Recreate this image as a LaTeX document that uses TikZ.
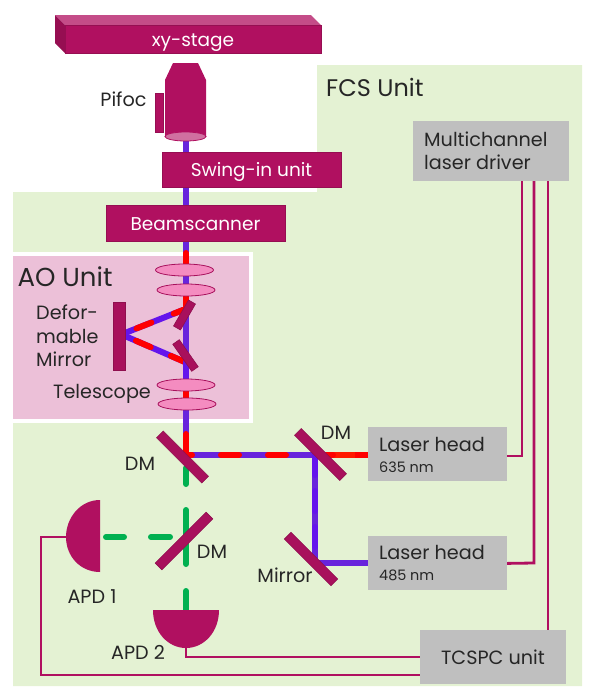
\documentclass[tikz,border=0pt]{standalone}
\usepackage{fontspec}
\setmainfont{Poppins}
\usetikzlibrary{positioning, arrows.meta, shapes.geometric, backgrounds}
\definecolor{stagepurple}{HTML}{B01060}
\definecolor{mirrorpurple}{HTML}{A8105C}
\definecolor{fcsgreen}{HTML}{E4F2D3}
\definecolor{aopink}{HTML}{ECC0D8}
\definecolor{lenspink}{HTML}{F48CC0}
\definecolor{headgray}{HTML}{BFBFBF}
\definecolor{beamblue}{HTML}{6414EC}
\definecolor{beamgreen}{HTML}{00B050}
\definecolor{labeltext}{HTML}{262626}
\pgfdeclarelayer{back}
\pgfsetlayers{back,background,main}

\begin{document}
\begin{tikzpicture}[
    x=1pt, y=-1pt,
    unitbox/.style={draw=stagepurple!85!black, line width=0.6pt, fill=stagepurple, rectangle, inner sep=0pt, align=center, text=white, text height=14pt, text depth=0pt, font=\fontsize{18.5}{20}\selectfont},
    headbox/.style={fill=headgray, rectangle, inner sep=0pt, text=labeltext, font=\fontsize{19.2}{20}\selectfont},
    mirror/.style={draw=mirrorpurple!85!black, line width=0.6pt, fill=mirrorpurple, rectangle, inner sep=0pt, minimum height=9.5pt},
    lens/.style={draw=mirrorpurple, line width=0.8pt, fill=lenspink, ellipse, inner sep=0pt, minimum width=58pt, minimum height=12pt},
    tag/.style={text=labeltext, inner sep=0pt, align=left, font=\fontsize{19.2}{23.5}\selectfont},
    smalltag/.style={tag, font=\fontsize{14.4}{16}\selectfont},
    unittag/.style={text=labeltext, inner sep=0pt, font=\fontsize{26}{28}\selectfont},
    beam/.style={line width=6pt, line cap=round},
    cable/.style={draw=stagepurple, line width=2.8pt}
]
    \useasboundingbox (0,0) rectangle (590,694);

    % Panels
    \begin{pgfonlayer}{back}
        \fill[fcsgreen] (317,65) -- (582,65) -- (582,686) -- (13,686) -- (13,192) -- (317,192) -- cycle;
        \fill[white] (13,252) rectangle (253,423);
        \fill[aopink] (13,256) rectangle (249,419);
    \end{pgfonlayer}
    \node[unittag, font=\fontsize{24}{28}\selectfont, anchor=west] (fcsunit) at (326,87) {FCS Unit};

    % Stage
    \fill[stagepurple!75!white] (55,15) -- (311,15) -- (321,25) -- (65,25) -- cycle;
    \fill[stagepurple!85!black] (55,15) -- (65,25) -- (65,53) -- (55,43) -- cycle;
    \node[unitbox, minimum width=256pt, minimum height=28pt] (stage) at (193,39) {xy-stage};

    % Objective
    \fill[stagepurple] (173,63) -- (198,63) -- (206,80) -- (206,137) -- (165,137) -- (165,80) -- cycle;
    \node[lens, fill=stagepurple!60!white, draw=stagepurple, minimum width=41pt, minimum height=9pt] (objective) at (185.5,136.5) {};
    \node[unitbox, minimum width=8pt, minimum height=39pt] (pifocbar) at (159,112.5) {};
    \node[tag] (pifoc) [left=8pt of pifocbar.north west, anchor=east, yshift=-7pt] {Pifoc};

    % Scan path
    \node[unitbox, minimum width=179pt, minimum height=35pt] (swing) at (251.5,169.5) {Swing-in unit};
    \node[unitbox, minimum width=179pt, minimum height=36pt] (scanner) at (195.5,223) {Beamscanner};

    % AO Unit
    \node[unittag] (aounit) at (65,277) {AO Unit};
    \node[lens] (lensa) at (184.5,270) {};
    \node[lens] (lensb) at (186,290) {};
    \node[lens] (lensc) at (186,385) {};
    \node[lens] (lensd) at (187,404) {};
    \node[mirror, minimum width=30pt, minimum height=8pt, rotate=60] (foldup) at (184.5,315) {};
    \node[mirror, minimum width=33pt, minimum height=8pt, rotate=-55] (folddown) at (185.5,355.5) {};
    \node[mirror, minimum width=68pt, minimum height=12pt, rotate=90] (deformable) at (119,336) {};
    \node[tag, anchor=west] (deftag) at (36,336) {Defor-\\mable\\Mirror};
    \node[tag] (telescope) at (102,394) {Telescope};

    % Mirrors
    \node[mirror, minimum width=64pt, rotate=-45] (dmmain) at (182.5,457) {};
    \node[mirror, minimum width=64pt, rotate=-45] (dmlaser) at (320.5,454.5) {};
    \node[mirror, minimum width=66pt, rotate=-45] (foldmirror) at (311,559) {};
    \node[mirror, minimum width=72pt, rotate=45] (dmapd) at (184,541) {};
    \node[tag] (dmmaintag) at (140,464) {DM};
    \node[tag] (dmlasertag) at (336,433) {DM};
    \node[tag] (dmapdtag) at (212,552) {DM};
    \node[tag] (foldtag) at (285,575) {Mirror};

    % Lasers
    \node[headbox, minimum width=139pt, minimum height=54pt] (laserred) at (437.5,454) {};
    \node[headbox, minimum width=139pt, minimum height=54pt] (laserblue) [below=55pt of laserred] {};
    \node[tag, anchor=west] (laserredtag) at (379,444) {Laser head};
    \node[smalltag, anchor=west] (laserredsub) at (379,467) {635 nm};
    \node[tag, anchor=west] (laserbluetag) at (379,552) {Laser head};
    \node[smalltag, anchor=west] (laserbluesub) at (379,575) {485 nm};

    % Electronics
    \node[headbox, minimum width=156pt, minimum height=60pt] (driver) at (491,151) {};
    \node[tag, anchor=west] (drivertag) at (424,151) {Multichannel\\laser driver};
    \node[headbox, minimum width=146pt, minimum height=54pt] (tcspc) at (493,657) {TCSPC unit};

    % Detectors
    \fill[stagepurple] (100,500) .. controls (80,500) and (66,518) .. (66,537) .. controls (66,556) and (80,572) .. (100,572) -- cycle;
    \fill[stagepurple] (153,610) .. controls (153,632) and (168,648) .. (186,648) .. controls (204,648) and (219,632) .. (219,610) -- cycle;
    \coordinate (apdone) at (66,537);
    \coordinate (apdtwo) at (186,648);
    \node[tag] (apdonetag) at (92,597) {APD 1};
    \node[tag] (apdtwotag) at (138,652) {APD 2};

    % Beams
    \coordinate (beamtop) at (186,140);
    \coordinate (beamcorner) at (186,455);
    \coordinate (beamsplit) at (315,455);
    \coordinate (beamfold) at (315,563);
    \coordinate (beamredend) at (333,455);
    \begin{pgfonlayer}{background}
        \draw[beam, line cap=butt, beamblue!85!gray] (beamtop) -- (beamcorner) -- (beamsplit) -- (beamfold) -- (beamfold -| laserblue.west);
        \draw[beam, line cap=butt, red!80!orange] (beamsplit) -- (beamsplit -| laserred.west);
        \draw[beam, line cap=butt, red] (355,455) -- (beamsplit -| laserred.west);
        \draw[beam, red] (186,253) -- (186,263);
        \draw[beam, red] (186,297) -- (186,309);
        \draw[beam, red, line cap=butt] (186,385) -- (186,404);
        \draw[beam, red] (186,434) -- (beamcorner);
        \draw[beam, red, dash pattern=on 18pt off 29pt, dash phase=12pt] (beamcorner) -- (beamredend);
        \draw[beam, beamblue, dash pattern=on 20pt off 16pt] (beamsplit) -- (beamfold);
        \draw[beam, beamblue] (183,310) -- (125,333);
        \draw[beam, red, dash pattern=on 16pt off 24pt, dash phase=6pt] (183,310) -- (125,333);
        \draw[beam, beamblue] (125,336) -- (185,362);
        \draw[beam, red, dash pattern=on 16pt off 22pt, dash phase=26pt] (125,336) -- (185,362);
        \draw[beam, beamblue] (186,362) -- (186,385);
        % green branch
        \draw[beam, beamgreen] (186,468) -- (186,484);
        \draw[beam, beamgreen] (186,510) -- (186,564);
        \draw[beam, beamgreen] (186,591) -- (186,610);
        \draw[beam, beamgreen] (106,537) -- (124,537);
        \draw[beam, beamgreen] (151,537) -- (170,537);
    \end{pgfonlayer}

    % Cables
    \draw[cable] (apdone) -- (41,537) -- (41,675) -- (tcspc.west |- 0,675);
    \draw[cable] (apdtwo) -- (186,657) -- (tcspc.west);
    \draw[cable] (laserred.east) ++(0,2) -- (522,456) -- (522,181);
    \draw[cable] (laserblue.east) -- (534,563) -- (534,181);
    \draw[cable] (548,181) -- (548,630);

\end{tikzpicture}
\end{document}
